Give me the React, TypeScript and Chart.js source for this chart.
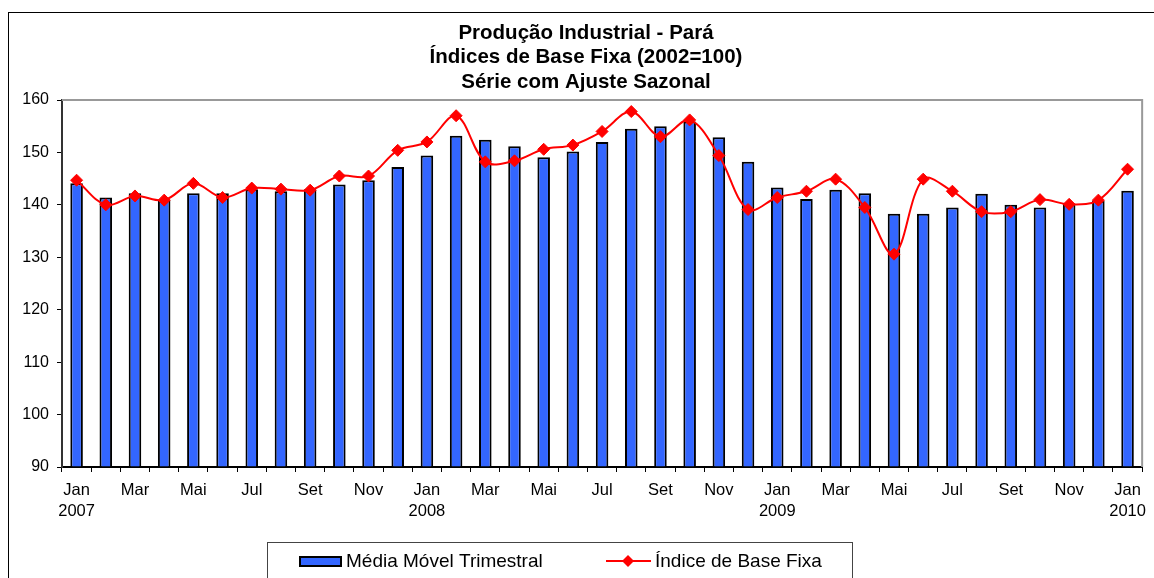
import React, { useEffect, useRef } from 'react';
import { Chart, registerables } from 'chart.js';

Chart.register(...registerables);

const FONT = '"Liberation Sans", Arial, Helvetica, sans-serif';

const titleLines = [
  'Produção Industrial - Pará',
  'Índices de Base Fixa (2002=100)',
  'Série com Ajuste Sazonal',
];

const categories = [
  'Jan 2007', 'Fev 2007', 'Mar 2007', 'Abr 2007', 'Mai 2007', 'Jun 2007',
  'Jul 2007', 'Ago 2007', 'Set 2007', 'Out 2007', 'Nov 2007', 'Dez 2007',
  'Jan 2008', 'Fev 2008', 'Mar 2008', 'Abr 2008', 'Mai 2008', 'Jun 2008',
  'Jul 2008', 'Ago 2008', 'Set 2008', 'Out 2008', 'Nov 2008', 'Dez 2008',
  'Jan 2009', 'Fev 2009', 'Mar 2009', 'Abr 2009', 'Mai 2009', 'Jun 2009',
  'Jul 2009', 'Ago 2009', 'Set 2009', 'Out 2009', 'Nov 2009', 'Dez 2009',
  'Jan 2010',
];

const xTickLabels: (string | string[])[] = [
  ['Jan', '2007'], '', 'Mar', '', 'Mai', '', 'Jul', '', 'Set', '', 'Nov', '',
  ['Jan', '2008'], '', 'Mar', '', 'Mai', '', 'Jul', '', 'Set', '', 'Nov', '',
  ['Jan', '2009'], '', 'Mar', '', 'Mai', '', 'Jul', '', 'Set', '', 'Nov', '',
  ['Jan', '2010'],
];

const mediaMovelTrimestral = [
  144.1, 141.4, 142.2, 141.0, 142.2, 142.2, 143.0, 142.6, 143.0, 143.9, 144.7, 147.2,
  149.4, 153.2, 152.4, 151.2, 149.1, 150.2, 152.0, 154.5, 155.0, 155.9, 152.9, 148.2,
  143.3, 141.1, 142.9, 142.2, 138.3, 138.3, 139.5, 142.1, 140.0, 139.5, 140.2, 140.8,
  142.7,
];

const indiceBaseFixa = [
  144.7, 140.0, 141.7, 140.9, 144.1, 141.4, 143.2, 143.0, 142.8, 145.5, 145.5, 150.4,
  152.0, 157.0, 148.2, 148.4, 150.6, 151.4, 154.0, 157.8, 153.0, 156.2, 149.4, 139.1,
  141.4, 142.6, 144.9, 139.5, 130.6, 144.9, 142.6, 138.7, 138.7, 141.0, 140.1, 140.9,
  146.8,
];

const seriesNames = ['Média Móvel Trimestral', 'Índice de Base Fixa'];
const yMin = 90;
const yMax = 160;
const yStep = 10;

const BAR_COLOR = '#3366FF';
const LINE_COLOR = '#FF0000';

const decorPlugin = {
  id: 'decor',
  beforeDraw(chart: any) {
    const ctx = chart.ctx;
    ctx.save();
    ctx.fillStyle = '#ffffff';
    ctx.fillRect(0, 0, chart.width, chart.height);
    ctx.restore();
  },
  beforeDatasetsDraw(chart: any) {
    const ctx = chart.ctx;
    const { left, top, right, bottom } = chart.chartArea;
    ctx.save();
    ctx.strokeStyle = '#999999';
    ctx.lineWidth = 2;
    ctx.beginPath();
    ctx.moveTo(left, top);
    ctx.lineTo(right, top);
    ctx.lineTo(right, bottom);
    ctx.stroke();
    ctx.restore();
  },
  afterDraw(chart: any) {
    const ctx = chart.ctx;
    ctx.save();
    // outer frame
    ctx.strokeStyle = '#000000';
    ctx.lineWidth = 1;
    ctx.strokeRect(8.5, 12.5, 1170, 600);

    // title
    ctx.fillStyle = '#000000';
    ctx.font = `bold 20.5px ${FONT}`;
    ctx.textAlign = 'center';
    ctx.textBaseline = 'middle';
    const cx = 586;
    titleLines.forEach((t, i) => ctx.fillText(t, cx, 33 + i * 24.5));

    // legend
    ctx.strokeStyle = '#444444';
    ctx.lineWidth = 1;
    ctx.strokeRect(267.5, 542.5, 585, 60);
    const ly = 561;
    // bar swatch
    ctx.fillStyle = '#000000';
    ctx.fillRect(299, 556, 43, 11);
    ctx.fillStyle = BAR_COLOR;
    ctx.fillRect(301, 558, 39, 7);
    ctx.fillStyle = '#000000';
    ctx.font = `19px ${FONT}`;
    ctx.textAlign = 'left';
    ctx.textBaseline = 'middle';
    ctx.fillText(seriesNames[0], 346, ly + 1);
    // line swatch
    ctx.strokeStyle = LINE_COLOR;
    ctx.lineWidth = 2;
    ctx.beginPath();
    ctx.moveTo(606, ly);
    ctx.lineTo(651, ly);
    ctx.stroke();
    ctx.fillStyle = LINE_COLOR;
    ctx.beginPath();
    ctx.moveTo(628, ly - 6);
    ctx.lineTo(634, ly);
    ctx.lineTo(628, ly + 6);
    ctx.lineTo(622, ly);
    ctx.closePath();
    ctx.fill();
    ctx.fillStyle = '#000000';
    ctx.fillText(seriesNames[1], 655, ly + 1);
    ctx.restore();
  },
};

export default function App() {
  const ref = useRef<HTMLCanvasElement | null>(null);

  useEffect(() => {
    if (!ref.current) return;
    const chart = new Chart(ref.current, {
      type: 'bar',
      data: {
        labels: categories,
        datasets: [
          {
            type: 'line',
            label: seriesNames[1],
            data: indiceBaseFixa,
            borderColor: LINE_COLOR,
            backgroundColor: LINE_COLOR,
            borderWidth: 2,
            pointStyle: 'rectRot',
            pointRadius: 6,
            pointBorderWidth: 1,
            pointBackgroundColor: LINE_COLOR,
            pointBorderColor: LINE_COLOR,
            tension: 0.35,
            fill: false,
            order: 0,
          },
          {
            type: 'bar',
            label: seriesNames[0],
            data: mediaMovelTrimestral,
            backgroundColor: BAR_COLOR,
            borderColor: '#000000',
            borderWidth: 2,
            barPercentage: 0.43,
            categoryPercentage: 1,
            base: yMin,
            order: 1,
          },
        ],
      },
      options: {
        animation: false,
        responsive: true,
        maintainAspectRatio: false,
        layout: { padding: { left: 0, right: 7, top: 100, bottom: 51 } },
        plugins: {
          legend: { display: false },
          title: { display: false },
          tooltip: { enabled: false },
        },
        scales: {
          x: {
            offset: true,
            grid: {
              display: true,
              offset: true,
              drawOnChartArea: false,
              drawTicks: true,
              tickLength: 5,
              color: '#000000',
              lineWidth: 1,
            },
            border: { display: true, color: '#000000', width: 2 },
            ticks: {
              autoSkip: false,
              maxRotation: 0,
              minRotation: 0,
              padding: 8,
              color: '#000000',
              font: { family: FONT, size: 16.5, lineHeight: 1.27 },
              callback: (_v: any, i: number) => xTickLabels[i],
            },
            afterFit: (scale: any) => {
              scale.height = 60;
            },
          },
          y: {
            min: yMin,
            max: yMax,
            grid: {
              display: true,
              drawOnChartArea: false,
              drawTicks: true,
              tickLength: 5,
              color: '#000000',
              lineWidth: 1,
            },
            border: { display: true, color: '#333333', width: 2 },
            ticks: {
              stepSize: yStep,
              padding: 8,
              color: '#000000',
              font: { family: FONT, size: 16 },
            },
            afterFit: (scale: any) => {
              scale.width = 62;
            },
          },
        },
      },
      plugins: [decorPlugin],
    } as any);
    return () => chart.destroy();
  }, []);

  return (
    <div style={{ position: 'fixed', left: 0, top: 0, width: 1154, height: 578 }}>
      <canvas ref={ref} />
    </div>
  );
}
